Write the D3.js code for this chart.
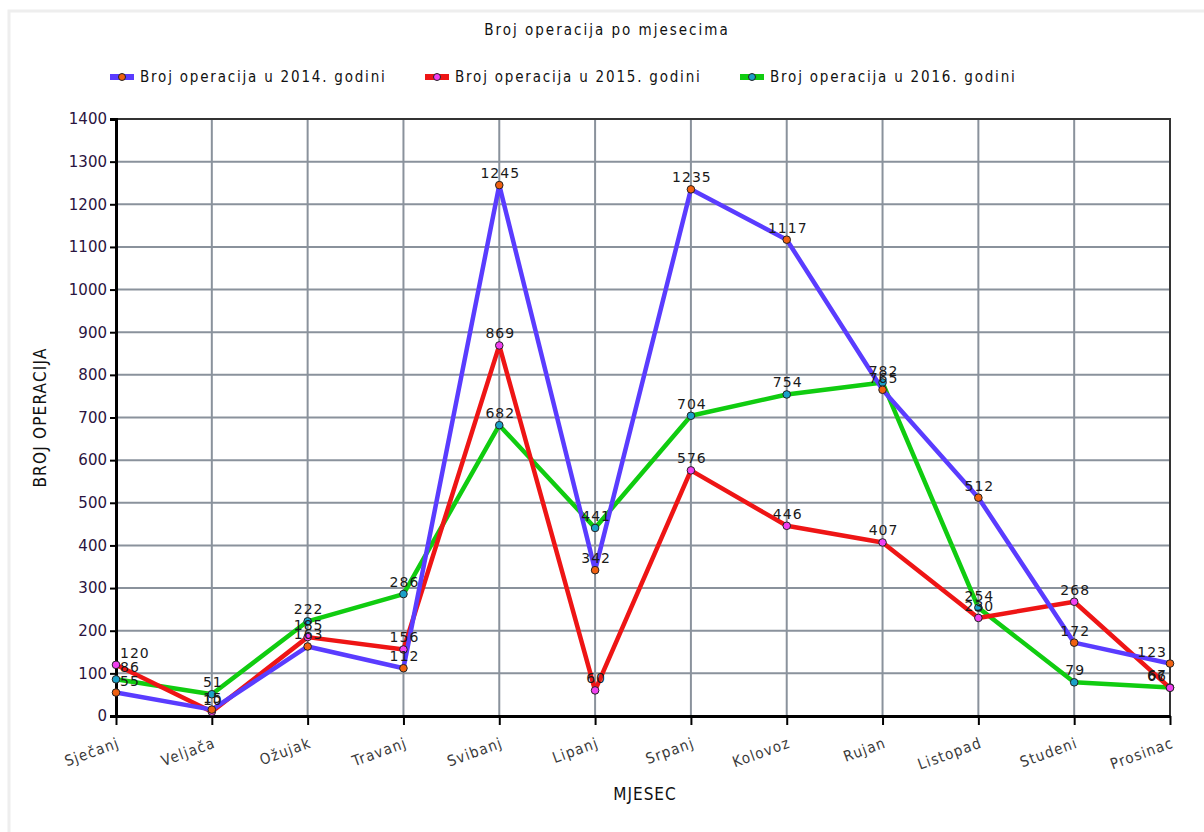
<!DOCTYPE html>
<html>
<head>
<meta charset="utf-8">
<script src="https://cdn.jsdelivr.net/npm/d3@7"></script>
<style>
    body { margin: 0; background: #fff; }
    text { font-family: "DejaVu Sans", sans-serif; }
</style>
</head>
<body>
<script>
const months = ['Sječanj', 'Veljača', 'Ožujak', 'Travanj', 'Svibanj', 'Lipanj',
    'Srpanj', 'Kolovoz', 'Rujan', 'Listopad', 'Studeni', 'Prosinac'];
const values2014 = [55, 15, 163, 112, 1245, 342, 1235, 1117, 765, 512, 172, 123];
const values2015 = [120, 10, 185, 156, 869, 60, 576, 446, 407, 230, 268, 66];
const values2016 = [86, 51, 222, 286, 682, 441, 704, 754, 782, 254, 79, 67];
const seriesNames = ['Broj operacija u 2014. godini', 'Broj operacija u 2015. godini', 'Broj operacija u 2016. godini'];
const yTicks = d3.range(0, 1401, 100);

const width = 1204, height = 832;
const margin = {top: 119, right: 34, bottom: 116, left: 116};
const condensed = '"DejaVu Sans Condensed", "DejaVu Sans", sans-serif';

const series = [
    {name: seriesNames[0], values: values2014, line: '#5a3cff', dot: '#f06010'},
    {name: seriesNames[1], values: values2015, line: '#ee1515', dot: '#f040f0'},
    {name: seriesNames[2], values: values2016, line: '#10cc10', dot: '#1aa0c8'}
];

const svg = d3.select('body').append('svg')
    .attr('width', width)
    .attr('height', height);

// okvir
svg.append('path')
    .attr('d', 'M9,832 V11 H1204')
    .attr('fill', 'none')
    .attr('stroke', '#eeeeee')
    .attr('stroke-width', 3);

const x = d3.scalePoint()
    .domain(months)
    .range([margin.left, width - margin.right]);

const y = d3.scaleLinear()
    .domain([0, 1400])
    .range([height - margin.bottom, margin.top]);

// mreža
svg.append('g')
    .selectAll('line')
    .data(yTicks.slice(1, -1))
    .enter().append('line')
    .attr('x1', margin.left).attr('x2', width - margin.right)
    .attr('y1', d => y(d)).attr('y2', d => y(d))
    .attr('stroke', '#8a929c').attr('stroke-width', 2);

svg.append('g')
    .selectAll('line')
    .data(months.slice(1, -1))
    .enter().append('line')
    .attr('x1', d => x(d)).attr('x2', d => x(d))
    .attr('y1', y(0)).attr('y2', y(1400))
    .attr('stroke', '#8a929c').attr('stroke-width', 2);

// gornja i desna linija
svg.append('path')
    .attr('d', `M${margin.left},${y(1400)} H${x(months[11])} V${y(0)}`)
    .attr('fill', 'none')
    .attr('stroke', '#333')
    .attr('stroke-width', 2);

// osi
const yAxis = svg.append('g')
    .attr('transform', `translate(${margin.left},0)`)
    .call(d3.axisLeft(y).tickValues(yTicks).tickFormat(d3.format('d')).tickSize(6).tickPadding(3));
yAxis.select('.domain').attr('stroke', '#000').attr('stroke-width', 3);
yAxis.selectAll('.tick line').attr('stroke', '#000').attr('stroke-width', 2);
yAxis.selectAll('.tick text')
    .attr('fill', '#2a1440')
    .style('font-size', '15px')
    .style('font-family', '"DejaVu Sans", sans-serif');

const xAxis = svg.append('g')
    .attr('transform', `translate(0,${y(0)})`)
    .call(d3.axisBottom(x).tickSize(9).tickSizeOuter(0));
xAxis.select('.domain').attr('stroke', '#000').attr('stroke-width', 3);
xAxis.selectAll('.tick line').attr('stroke', '#000').attr('stroke-width', 2);
xAxis.selectAll('.tick text')
    .attr('fill', '#3a3a3a')
    .attr('text-anchor', 'end')
    .attr('dy', null)
    .attr('transform', 'translate(4,31) rotate(-20)')
    .attr('y', 0)
    .style('font-size', '15px')
    .style('letter-spacing', '1.2px')
    .style('font-family', condensed);

// naslovi osi
svg.append('text')
    .attr('transform', `translate(46,${(y(0) + y(1400)) / 2}) rotate(-90)`)
    .attr('text-anchor', 'middle')
    .style('font-size', '17px')
    .style('letter-spacing', '1.2px')
    .style('font-family', condensed)
    .attr('fill', '#111')
    .text('BROJ OPERACIJA');

svg.append('text')
    .attr('x', (x(months[0]) + x(months[11])) / 2 + 2)
    .attr('y', 800)
    .attr('text-anchor', 'middle')
    .style('font-size', '17px')
    .style('letter-spacing', '1px')
    .style('font-family', condensed)
    .attr('fill', '#111')
    .text('MJESEC');

// naslov
svg.append('text')
    .attr('x', 607)
    .attr('y', 35)
    .attr('text-anchor', 'middle')
    .style('font-size', '15px')
    .style('letter-spacing', '2px')
    .style('font-family', condensed)
    .attr('fill', '#111')
    .text('Broj operacija po mjesecima');

// legenda
const legend = svg.append('g').selectAll('g')
    .data(series)
    .enter().append('g')
    .attr('transform', (d, i) => `translate(${110 + i * 315},77)`);
legend.append('line')
    .attr('x1', 0).attr('x2', 24)
    .attr('stroke', d => d.line).attr('stroke-width', 6);
legend.append('circle')
    .attr('cx', 12).attr('r', 3.5)
    .attr('fill', d => d.dot).attr('stroke', '#222').attr('stroke-width', 1);
legend.append('text')
    .attr('x', 30).attr('dy', '0.35em')
    .style('font-size', '15px')
    .style('letter-spacing', '1.8px')
    .style('font-family', condensed)
    .attr('fill', '#111')
    .text(d => d.name);

// linije (zelena ispod, plava iznad)
const line = d3.line()
    .x((d, i) => x(months[i]))
    .y(d => y(d));

const drawOrder = series.slice().reverse();

svg.append('g').selectAll('path')
    .data(drawOrder)
    .enter().append('path')
    .attr('d', d => line(d.values))
    .attr('fill', 'none')
    .attr('stroke', d => d.line)
    .attr('stroke-width', 4.5)
    .attr('stroke-linejoin', 'round');

// točke
drawOrder.forEach(s => {
    svg.append('g').selectAll('circle')
        .data(s.values)
        .enter().append('circle')
        .attr('cx', (d, i) => x(months[i]))
        .attr('cy', d => y(d))
        .attr('r', 3.8)
        .attr('fill', s.dot)
        .attr('stroke', '#222')
        .attr('stroke-width', 1);
});

// oznake vrijednosti (rubne se pomiču unutar grafa)
const last = months.length - 1;
drawOrder.forEach(s => {
    svg.append('g').selectAll('text')
        .data(s.values)
        .enter().append('text')
        .attr('x', (d, i) => x(months[i]) + (i === 0 ? 4 : i === last ? -3 : 1))
        .attr('y', d => y(d) - 7)
        .attr('text-anchor', (d, i) => i === 0 ? 'start' : i === last ? 'end' : 'middle')
        .style('font-size', '14px')
        .style('letter-spacing', '1px')
        .attr('fill', '#1a1a1a')
        .text(d => d);
});
</script>
</body>
</html>
